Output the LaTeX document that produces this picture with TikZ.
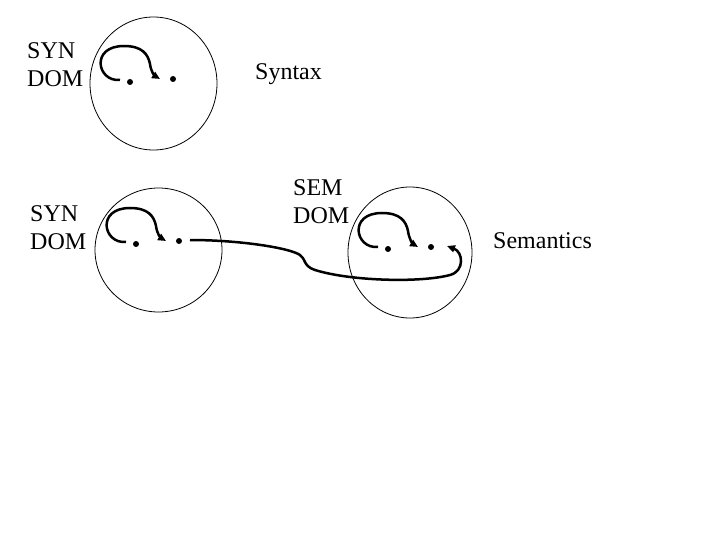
\documentclass[tikz,border=0pt]{standalone}
\usepackage{fontspec}
\setmainfont{Liberation Serif}
\usetikzlibrary{
  arrows.meta,
  shapes.geometric,
  calc
}
\tikzset{
  dombox/.style={draw, ellipse, line width=0.8pt, inner sep=0pt},
  elem/.style={circle, fill, inner sep=0pt, minimum size=6pt},
  mapsto/.style={-{Triangle[length=8pt, width=7pt]}, line width=2.5pt},
  lbl/.style={font=\fontsize{24}{28}\selectfont, anchor=base west, align=left, inner sep=0pt}
}

\begin{document}
\begin{tikzpicture}[x=1pt, y=-1pt]
  \useasboundingbox (0,0) rectangle (720,540);
  % domains
  \node[dombox, minimum width=127pt, minimum height=133pt] (syn1) at (153.5,83.5) {};
  \node[dombox, minimum width=127pt, minimum height=124pt] (syn2) at (158.5,250) {};
  \node[dombox, minimum width=124pt, minimum height=131pt] (sem) at (410,252.5) {};
  % elements
  \node[elem] (syn1-l) at (130,82) {};
  \node[elem] (syn1-r) at (173,79) {};
  \node[elem] (syn2-l) at (136,244) {};
  \node[elem] (syn2-r) at (179,241) {};
  \node[elem] (sem-l) at (388,249) {};
  \node[elem] (sem-r) at (431,247) {};
  % labels (base = last line)
  \node[lbl] (lsyn1) at (27,87) {SYN\\DOM};
  \node[lbl] (lsyn2) at (30,249) {SYN\\DOM};
  \node[lbl] (lsem) at (293,223) {SEM\\DOM};
  \node[lbl] (lsyntax) at (255,80) {Syntax};
  \node[lbl] (lsemantics) at (493,248) {Semantics};
  % loops inside each domain
  \foreach \d in {syn1, syn2, sem} {
    \draw[mapsto] ($(\d-l)+(-10,-2)$) .. controls +(-23,2) and +(-34,0) .. ($(\d-l)+(-6,-36)$)
      .. controls +(18,0) and +(-2,-10) .. ($(\d-l)+(20,-18)$)
      .. controls +(1,8) and +(-5,-3) .. ($(\d-r)+(-13,0)$);
  }
  % syntax to semantics
  \draw[mapsto] ($(syn2-r)+(11,-1)$) .. controls (240,240) and (290,248) .. (300,255)
    .. controls (306,259) and (303,266) .. (315,270)
    .. controls (350,281) and (420,283) .. (450,275)
    .. controls (465,271) and (463,252) .. ($(sem-r)+(16,-1)$);
\end{tikzpicture}
\end{document}
